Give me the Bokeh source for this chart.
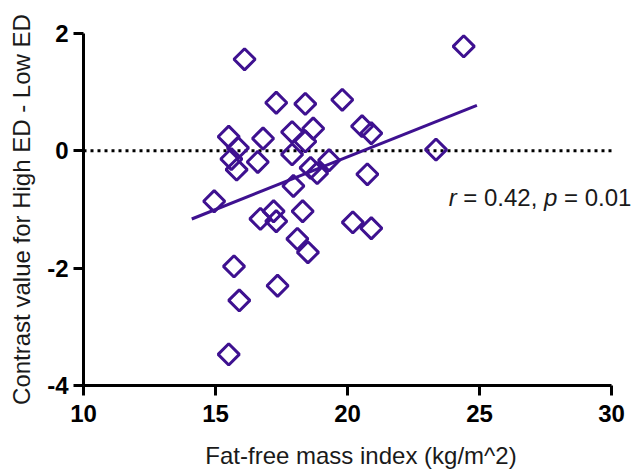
import numpy as np
from bokeh.plotting import figure
from bokeh.models import Label, Range1d, FixedTicker
from bokeh.embed import file_html
from bokeh.resources import INLINE

# Data
ffmi = [16.1, 17.3, 18.4, 19.8, 24.4,
        15.5, 15.85, 16.8, 17.9, 18.7, 18.4,
        15.6, 15.8, 16.6, 17.9,
        14.95, 17.95, 18.6, 18.85,
        20.55, 20.9, 23.35, 19.3, 20.75,
        16.7, 17.2, 17.3, 18.3, 20.2, 20.9,
        18.1, 18.5, 15.7, 15.9, 17.35, 15.5]
contrast = [1.56, 0.82, 0.80, 0.87, 1.78,
            0.24, 0.05, 0.21, 0.32, 0.38, 0.16,
            -0.14, -0.32, -0.19, -0.06,
            -0.86, -0.60, -0.29, -0.38,
            0.42, 0.30, 0.02, -0.16, -0.40,
            -1.16, -1.03, -1.20, -1.03, -1.22, -1.32,
            -1.50, -1.73, -1.97, -2.55, -2.30, -3.47]
x_ticks = [10, 15, 20, 25, 30]
y_ticks = [-4, -2, 0, 2]
fit_x_range = [14.1, 24.9]
r_value = 0.42
p_value = 0.01

PURPLE = "#3e1190"
FONT = "Liberation Sans"

p = figure(width=638, height=472, output_backend="svg", toolbar_location=None,
           x_range=Range1d(10, 31.02), y_range=Range1d(-4, 2),
           min_border_left=83, min_border_right=0,
           min_border_top=33, min_border_bottom=87)
p.xgrid.visible = False
p.ygrid.visible = False
p.outline_line_color = None
p.background_fill_color = "white"
p.border_fill_color = "white"

p.xaxis.ticker = FixedTicker(ticks=x_ticks)
p.yaxis.ticker = FixedTicker(ticks=y_ticks)
p.xaxis.bounds = (x_ticks[0], x_ticks[-1])
p.xaxis.major_label_overrides = {t: str(t) for t in x_ticks}
p.yaxis.major_label_overrides = {t: str(t) for t in y_ticks}
p.xaxis.axis_label = "Fat-free mass index (kg/m^2)"
p.yaxis.axis_label = "Contrast value for High ED - Low ED"
for ax in (p.xaxis, p.yaxis):
    ax.axis_line_width = 3
    ax.axis_line_color = "black"
    ax.major_tick_line_width = 3
    ax.major_tick_line_color = "black"
    ax.major_tick_out = 10
    ax.major_tick_in = 0
    ax.minor_tick_out = 0
    ax.minor_tick_in = 0
    ax.major_label_text_font = FONT
    ax.major_label_text_font_size = "24px"
    ax.major_label_text_font_style = "bold"
    ax.major_label_text_color = "black"
    ax.axis_label_text_font = FONT
    ax.axis_label_text_font_size = "24px"
    ax.axis_label_text_font_style = "normal"
    ax.axis_label_text_color = "#1a1a1a"
p.xaxis.major_label_standoff = 9
p.yaxis.major_label_standoff = 5
p.xaxis.axis_label_standoff = 17
p.yaxis.axis_label_standoff = 9

# zero reference line (dotted) across the x axis span
p.line([x_ticks[0], x_ticks[-1]], [0, 0], line_color="black",
       line_width=3, line_dash="3 4")

# regression line from the data
slope, intercept = np.polyfit(ffmi, contrast, 1)
fx = np.array(fit_x_range)
p.line(fx, slope * fx + intercept, line_color=PURPLE, line_width=3)

p.scatter(ffmi, contrast, marker="square", size=15, angle=np.pi / 4,
          fill_alpha=0, line_color=PURPLE, line_width=3)

# statistics text
fs = 24
pieces = [("r", "italic", 0.0),
          (f"= {r_value:.2f},", "normal", 0.333 + 0.278),
          ("p", "italic", 0.333 + 0.278 + 3.086 + 0.278),
          (f"= {p_value:.2f}", "normal", 0.333 + 0.278 + 3.086 + 0.278 + 0.556 + 0.278)]
for txt, style, off in pieces:
    p.add_layout(Label(x=23.83, y=-0.80, text=txt, x_offset=off * fs,
                       text_font=FONT, text_font_size=f"{fs}px",
                       text_font_style=style, text_color="#1a1a1a",
                       text_baseline="alphabetic", text_align="left"))

open("out.html", "w").write(file_html(p, INLINE))
